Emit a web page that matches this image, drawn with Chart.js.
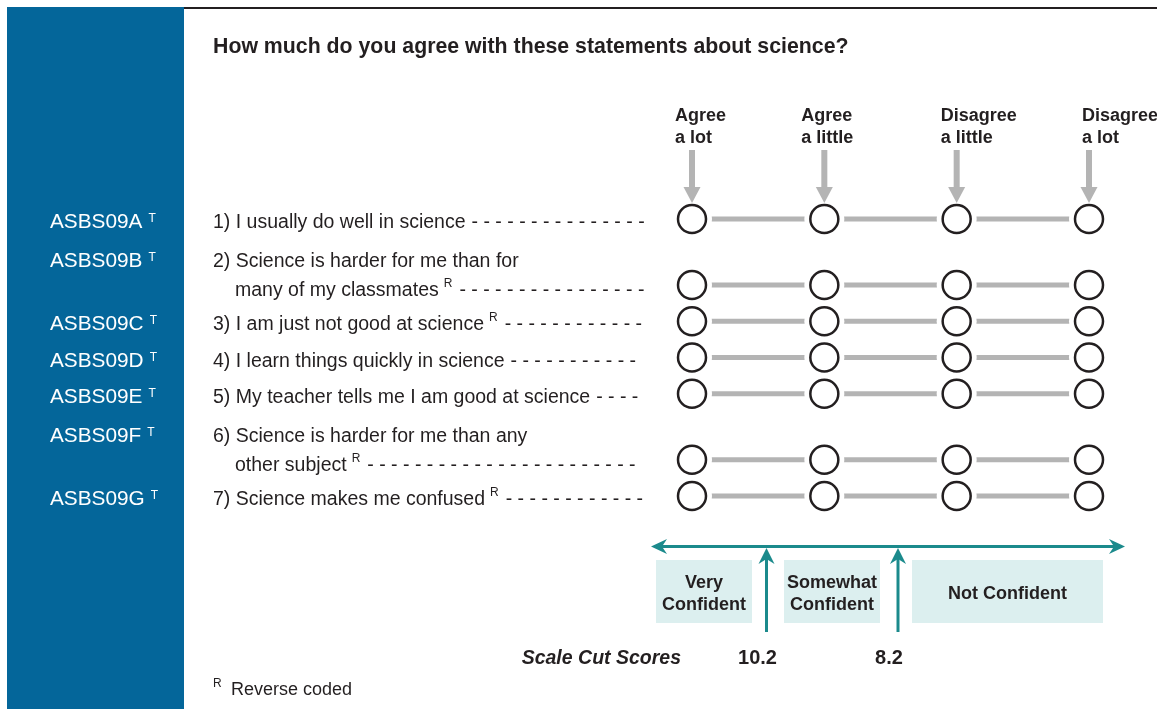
<!DOCTYPE html>
<html>
<head>
<meta charset="utf-8">
<script src="https://cdn.jsdelivr.net/npm/chart.js@4/dist/chart.umd.min.js"></script>
<style>
  html, body { margin: 0; padding: 0; background: #fff; }
  #wrap { width: 1157px; height: 709px; }
</style>
</head>
<body>
<div id="wrap"><canvas id="myCanvas" width="1157" height="709"></canvas></div>
<script>
// ---- data ----
const title = 'How much do you agree with these statements about science?';
const responseLabels = [['Agree', 'a lot'], ['Agree', 'a little'], ['Disagree', 'a little'], ['Disagree', 'a lot']];
const itemCodes = ['ASBS09A', 'ASBS09B', 'ASBS09C', 'ASBS09D', 'ASBS09E', 'ASBS09F', 'ASBS09G'];
const itemText = [
  ['1) I usually do well in science'],
  ['2) Science is harder for me than for', 'many of my classmates'],
  ['3) I am just not good at science'],
  ['4) I learn things quickly in science'],
  ['5) My teacher tells me I am good at science'],
  ['6) Science is harder for me than any', 'other subject'],
  ['7) Science makes me confused']
];
const reverseCoded = [false, true, true, false, false, true, true];
const categoryLabels = [['Very', 'Confident'], ['Somewhat', 'Confident'], ['Not Confident']];
const cutScores = ['10.2', '8.2'];

// row position: one unit per item, plus a bit for each extra text line
const rowPos = [];
let acc = 0;
itemText.forEach((lines, i) => {
  acc += (lines.length - 1) * 0.82;
  rowPos.push(i + acc);
});

const FONT = "'Liberation Sans', Arial, Helvetica, sans-serif";
const INK = '#231f20';
const GREY = '#b4b4b4';
const TEAL = '#1b8a8c';

function barbHead(ctx, tx, ty, dx, dy, len, half, notch) {
  // arrow head pointing along (dx,dy) with its tip on (tx,ty)
  const px = -dy, py = dx;
  ctx.beginPath();
  ctx.moveTo(tx, ty);
  ctx.lineTo(tx - dx * len + px * half, ty - dy * len + py * half);
  ctx.lineTo(tx - dx * notch, ty - dy * notch);
  ctx.lineTo(tx - dx * len - px * half, ty - dy * len - py * half);
  ctx.closePath();
  ctx.fill();
}

const pagePlugin = {
  id: 'page',
  beforeDraw(chart) {
    const ctx = chart.ctx;
    ctx.save();
    ctx.fillStyle = '#ffffff';
    ctx.fillRect(0, 0, chart.width, chart.height);
    ctx.fillStyle = '#04669a';
    ctx.fillRect(7, 7, 177, chart.height - 7);
    ctx.fillStyle = INK;
    ctx.fillRect(184, 7, chart.width - 184, 2);
    ctx.restore();
  },
  afterDatasetsDraw(chart) {
    const ctx = chart.ctx;
    const xs = chart.scales.x, ys = chart.scales.y;
    ctx.save();
    ctx.textBaseline = 'alphabetic';

    // title
    ctx.fillStyle = INK;
    ctx.font = 'bold 21.3px ' + FONT;
    ctx.fillText(title, 213, 53);

    // response headers + grey arrows
    const headOffset = [-17, -23, -16, -7];
    responseLabels.forEach((lines, c) => {
      const cx = xs.getPixelForValue(c);
      ctx.fillStyle = INK;
      ctx.font = 'bold 18px ' + FONT;
      lines.forEach((t, j) => ctx.fillText(t, cx + headOffset[c], 121 + j * 22));
      ctx.fillStyle = GREY;
      ctx.fillRect(cx - 3, 150, 6, 40);
      ctx.beginPath();
      ctx.moveTo(cx - 8.5, 187);
      ctx.lineTo(cx + 8.5, 187);
      ctx.lineTo(cx, 203);
      ctx.closePath();
      ctx.fill();
    });

    // item codes and statements
    itemText.forEach((lines, i) => {
      const cy = ys.getPixelForValue(rowPos[i]);
      const n = lines.length;
      const lastBase = cy + (n > 1 ? 11 : 9);
      const firstBase = lastBase - (n - 1) * 28.5;

      ctx.fillStyle = '#ffffff';
      ctx.font = '20.8px ' + FONT;
      ctx.fillText(itemCodes[i], 50, firstBase);
      const cw = ctx.measureText(itemCodes[i]).width;
      ctx.font = '12px ' + FONT;
      ctx.fillText('T', 50 + cw + 6, firstBase - 6);

      ctx.fillStyle = INK;
      lines.forEach((t, j) => {
        const base = firstBase + j * 28.5;
        const tx = j === 0 ? 213 : 235;
        ctx.font = '19.5px ' + FONT;
        ctx.fillText(t, tx, base);
        if (j === n - 1) {
          let end = tx + ctx.measureText(t).width;
          if (reverseCoded[i]) {
            ctx.font = '12px ' + FONT;
            ctx.fillText('R', end + 5, base - 9);
            end += 5 + ctx.measureText('R').width + 7;
          } else {
            end += 6;
          }
          ctx.font = '19.5px ' + FONT;
          for (let x = end; x + 6 <= 646; x += 11.9) ctx.fillText('-', x, base);
        }
      });
    });

    // confidence scale underneath
    ctx.fillStyle = TEAL;
    ctx.strokeStyle = TEAL;
    ctx.lineWidth = 3;
    ctx.beginPath();
    ctx.moveTo(658, 546.5);
    ctx.lineTo(1118, 546.5);
    ctx.stroke();
    barbHead(ctx, 651, 546.5, -1, 0, 16, 7.5, 11);
    barbHead(ctx, 1125, 546.5, 1, 0, 16, 7.5, 11);
    const cutX = [766.5, 898];
    cutX.forEach(x => {
      ctx.beginPath();
      ctx.moveTo(x, 632);
      ctx.lineTo(x, 555);
      ctx.stroke();
      barbHead(ctx, x, 548, 0, -1, 16, 8, 11);
    });

    const boxes = [[656, 752], [784, 880], [912, 1103]];
    ctx.font = 'bold 18px ' + FONT;
    ctx.textAlign = 'center';
    boxes.forEach((b, k) => {
      ctx.fillStyle = '#dcefef';
      ctx.fillRect(b[0], 560, b[1] - b[0], 63);
      ctx.fillStyle = INK;
      const mid = (b[0] + b[1]) / 2;
      const lines = categoryLabels[k];
      lines.forEach((t, j) => {
        const base = lines.length === 1 ? 599 : 588 + j * 22;
        ctx.fillText(t, mid, base);
      });
    });

    ctx.font = 'bold 20px ' + FONT;
    cutScores.forEach((s, k) => ctx.fillText(s, cutX[k] - 9, 664));
    ctx.textAlign = 'right';
    ctx.font = 'italic bold 19.5px ' + FONT;
    ctx.fillText('Scale Cut Scores', 681, 664);

    // footnote
    ctx.textAlign = 'left';
    ctx.font = '12px ' + FONT;
    ctx.fillText('R', 213, 687);
    ctx.font = '18px ' + FONT;
    ctx.fillText('Reverse coded', 231, 695);

    ctx.restore();
  }
};

// one grey connector per item, masked around the answer circles
const datasets = [];
const circlePts = [];
itemText.forEach((lines, i) => {
  const pts = responseLabels.map((r, c) => ({x: c, y: rowPos[i]}));
  pts.forEach(p => circlePts.push(p));
  datasets.push({
    type: 'line',
    data: pts,
    showLine: true,
    borderColor: GREY,
    borderWidth: 5,
    pointRadius: 20,
    pointBackgroundColor: '#ffffff',
    pointBorderWidth: 0,
    clip: false,
    order: 2
  });
});
datasets.push({
  type: 'scatter',
  data: circlePts,
  pointRadius: 14,
  pointBorderWidth: 2.5,
  pointBorderColor: INK,
  pointBackgroundColor: '#ffffff',
  clip: false,
  order: 1
});

const ctx = document.getElementById('myCanvas').getContext('2d');
new Chart(ctx, {
  type: 'scatter',
  data: {datasets},
  options: {
    responsive: false,
    devicePixelRatio: 1,
    animation: false,
    events: [],
    layout: {padding: {left: 692, right: 1157 - 1089, top: 219, bottom: 709 - 496}},
    plugins: {legend: {display: false}, tooltip: {enabled: false}},
    scales: {
      x: {type: 'linear', min: 0, max: responseLabels.length - 1, display: false},
      y: {type: 'linear', min: 0, max: rowPos[rowPos.length - 1], reverse: true, display: false}
    }
  },
  plugins: [pagePlugin]
});
</script>
</body>
</html>
